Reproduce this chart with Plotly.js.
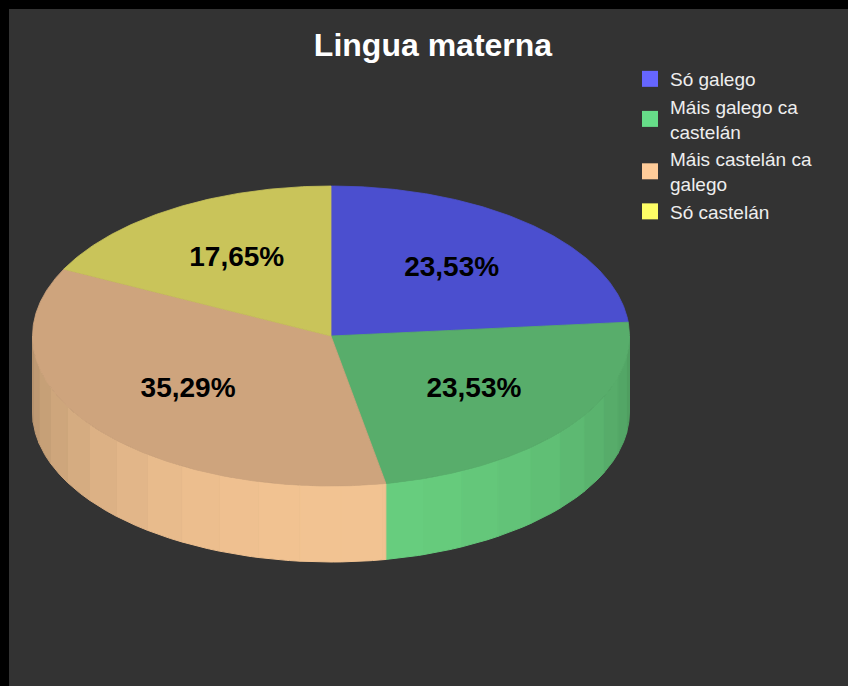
<!DOCTYPE html>
<html>
<head>
<meta charset="utf-8">
<script src="https://cdn.plot.ly/plotly-3.0.1.min.js"></script>
<style>html,body{margin:0;padding:0;background:#333333;}#chart{width:848px;height:686px;}</style>
</head>
<body>
<div id="chart"></div>
<script>
// ---- data ----
const categories = ['Só galego', 'Máis galego ca castelán', 'Máis castelán ca galego', 'Só castelán'];
const legendLabels = ['Só galego', 'Máis galego ca<br>castelán', 'Máis castelán ca<br>galego', 'Só castelán'];
const values = [4, 4, 6, 3];
const legendColors = ['#6666ff', '#66dd88', '#ffcc99', '#ffff66'];
const topColors = ['#4b4fcf', '#58ad6b', '#cea47d', '#c9c45a'];
const sideColors = ['#6a6cff', '#6cd784', '#fccb98', '#f5f06a'];
const chartTitle = 'Lingua materna';

// ---- geometry (pixel space of the page) ----
const W = 848, H = 686;
const cx = 331, cy = 336, rx = 298.5, ry = 150, depth = 76;
const deg = Math.PI / 180;

function shade(hex, f) {
  const n = parseInt(hex.slice(1), 16);
  const r = Math.min(255, Math.round(((n >> 16) & 255) * f));
  const g = Math.min(255, Math.round(((n >> 8) & 255) * f));
  const b = Math.min(255, Math.round((n & 255) * f));
  return 'rgb(' + r + ',' + g + ',' + b + ')';
}
function px(t) { return cx + rx * Math.sin(t * deg); }
function py(t, dy) { return cy - ry * Math.cos(t * deg) + dy; }
function arc(s, e, dy, xs, ys) {
  const n = Math.max(2, Math.ceil(Math.abs(e - s) / 0.5) + 1);
  for (let k = 0; k < n; k++) { const t = s + (e - s) * k / (n - 1); xs.push(px(t)); ys.push(py(t, dy)); }
}

const total = values.reduce((a, b) => a + b, 0);
const starts = [], ends = [];
let acc = 0;
values.forEach(v => { starts.push(acc / total * 360); acc += v; ends.push(acc / total * 360); });
const pctText = values.map(v => (v / total * 100).toFixed(2).replace('.', ',') + '%');

const traces = [];

// side walls (front half only)
values.forEach((v, i) => {
  const a0 = Math.max(starts[i], 90), a1 = Math.min(ends[i], 270);
  if (a1 <= a0) return;
  const step = 8;
  const cuts = [a0];
  for (let c = 90 + step; c < 270; c += step) if (c > a0 + 0.01 && c < a1 - 0.01) cuts.push(c);
  cuts.push(a1);
  for (let k = 0; k < cuts.length - 1; k++) {
    const s = cuts[k], e = cuts[k + 1];
    const xs = [], ys = [];
    arc(s, e, 0, xs, ys);
    arc(e, s, depth, xs, ys);
    xs.push(xs[0]); ys.push(ys[0]);
    const mid = (s + e) / 2;
    const f = 0.72 + 0.24 * (-Math.cos(mid * deg));
    const col = shade(sideColors[i], f);
    traces.push({ type: 'scatter', mode: 'lines', x: xs, y: ys, fill: 'toself', fillcolor: col,
      line: { color: col, width: 1 }, hoverinfo: 'skip', showlegend: false });
  }
});

// top faces
values.forEach((v, i) => {
  const xs = [cx], ys = [cy];
  arc(starts[i], ends[i], 0, xs, ys);
  xs.push(cx); ys.push(cy);
  const col = topColors[i];
  traces.push({ type: 'scatter', mode: 'lines', x: xs, y: ys, fill: 'toself', fillcolor: col,
    line: { color: col, width: 0.8 }, hoverinfo: 'skip', showlegend: false });
});

// percentage labels
const lx = [], ly = [];
values.forEach((v, i) => {
  const mid = (starts[i] + ends[i]) / 2;
  lx.push(cx + 0.6 * rx * Math.sin(mid * deg));
  ly.push(cy - 0.6 * ry * Math.cos(mid * deg));
});
traces.push({ type: 'scatter', mode: 'text', x: lx, y: ly, text: pctText, textposition: 'middle center',
  textfont: { family: 'Liberation Sans, Arial, sans-serif', size: 28, weight: 'bold', color: '#000000' },
  hoverinfo: 'skip', showlegend: false });

// legend entries
categories.forEach((c, i) => {
  traces.push({ type: 'scatter', mode: 'markers', x: [null], y: [null], name: legendLabels[i],
    marker: { symbol: 'square', size: 16, color: legendColors[i], line: { width: 0 } },
    hoverinfo: 'skip', showlegend: true });
});

const layout = {
  width: W, height: H,
  margin: { l: 0, r: 0, t: 0, b: 0 },
  paper_bgcolor: '#333333', plot_bgcolor: '#333333',
  font: { family: 'Liberation Sans, Arial, sans-serif', color: '#ffffff' },
  title: { text: chartTitle, x: 433 / W, xanchor: 'center', y: 1 - 45 / H, yanchor: 'middle', yref: 'container',
    font: { family: 'Liberation Sans, Arial, sans-serif', size: 32, weight: 'bold', color: '#ffffff' } },
  xaxis: { range: [0, W], visible: false, fixedrange: true },
  yaxis: { range: [H, 0], visible: false, fixedrange: true },
  showlegend: true,
  legend: { x: 630 / W, xanchor: 'left', y: 1 - 60 / H, yanchor: 'top', bgcolor: 'rgba(0,0,0,0)',
    font: { family: 'Liberation Sans, Arial, sans-serif', size: 19, color: '#eeeeee' }, tracegroupgap: 0 },
  shapes: [
    { type: 'rect', xref: 'x', yref: 'y', x0: 0, x1: 9, y0: 0, y1: H, fillcolor: '#000000', line: { width: 0 } },
    { type: 'rect', xref: 'x', yref: 'y', x0: 0, x1: W, y0: 0, y1: 9, fillcolor: '#000000', line: { width: 0 } }
  ]
};

Plotly.newPlot('chart', traces, layout, { displayModeBar: false, staticPlot: true });
</script>
</body>
</html>
